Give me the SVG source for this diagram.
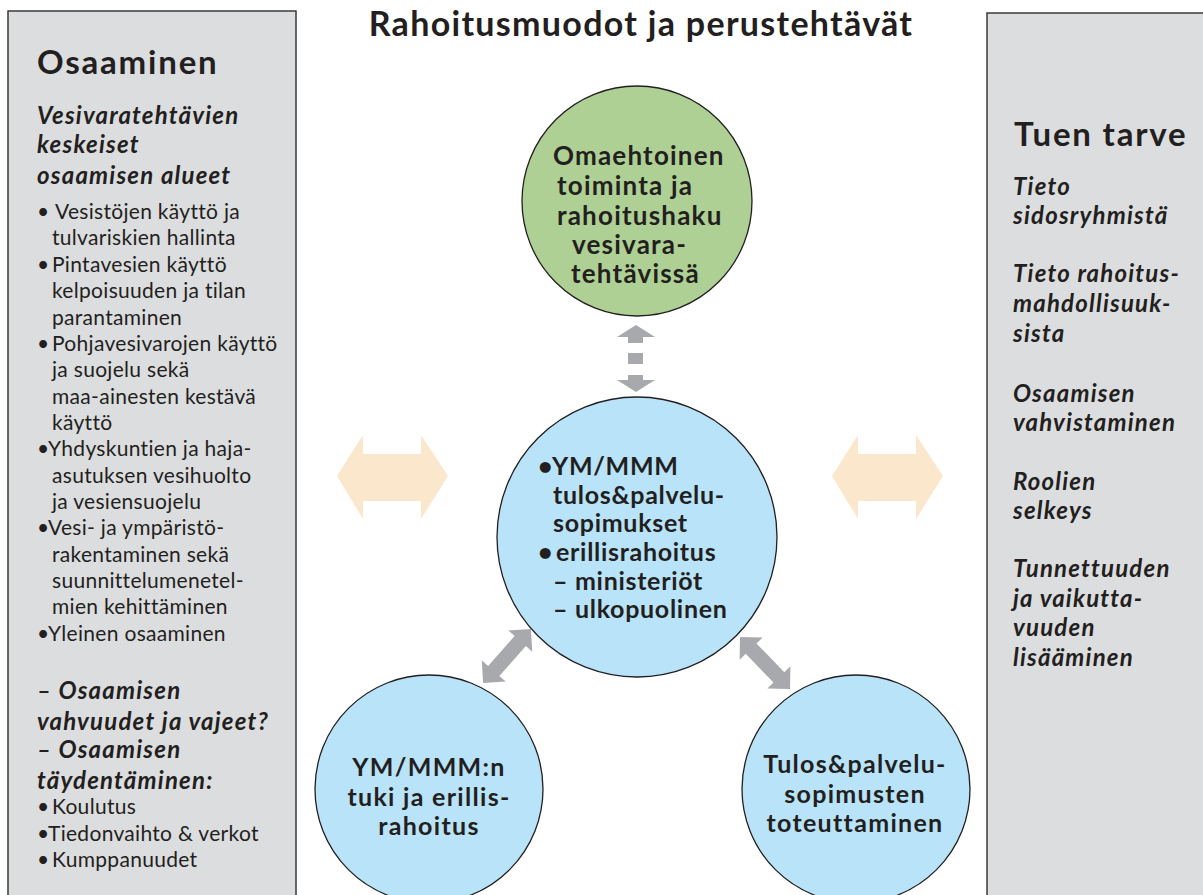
<svg xmlns="http://www.w3.org/2000/svg" width="1203" height="895" viewBox="0 0 1203 895">
<defs>
<style>
.panel{fill:#dcdddf;stroke:#3a3a3a;stroke-width:1.5}
.t{font-family:Lato,"Liberation Sans",sans-serif;fill:#231f20}
.h1{font-size:34px;font-weight:bold;letter-spacing:1.3px}
.hp{font-size:33px;font-weight:bold;letter-spacing:1.8px}
.bi{font-size:24px;font-weight:bold;font-style:italic;letter-spacing:1.2px}
.reg{font-size:21px;letter-spacing:0.3px}
.cb{font-size:25px;font-weight:bold;letter-spacing:0.7px}
.gb{font-size:26px;font-weight:bold;letter-spacing:1.2px}
.bb{font-size:25px;font-weight:bold;letter-spacing:1.3px}
.circ{stroke:#231f20;stroke-width:1.3}
.gray{fill:#a7a9ac}
.peach{fill:#fbe7cb}
</style>
</defs>
<rect width="1203" height="895" fill="#ffffff"/>
<text class="t h1" x="641" y="36" text-anchor="middle">Rahoitusmuodot ja perustehtävät</text>

<g id="panel-osaaminen">
<rect class="panel" x="8" y="11" width="288" height="895"/>
<text class="t hp" x="37" y="74">Osaaminen</text>
<text class="t bi" x="37" y="124">Vesivaratehtävien</text>
<text class="t bi" x="37" y="153">keskeiset</text>
<text class="t bi" x="37" y="184">osaamisen alueet</text>
<text class="t reg" y="219"><tspan x="37">•</tspan><tspan x="55">Vesistöjen käyttö ja</tspan></text>
<text class="t reg" x="52" y="245">tulvariskien hallinta</text>
<text class="t reg" y="272"><tspan x="37">•</tspan><tspan x="52">Pintavesien käyttö</tspan></text>
<text class="t reg" x="52" y="298">kelpoisuuden ja tilan</text>
<text class="t reg" x="52" y="325">parantaminen</text>
<text class="t reg" y="351"><tspan x="37">•</tspan><tspan x="52">Pohjavesivarojen käyttö</tspan></text>
<text class="t reg" x="52" y="377">ja suojelu sekä</text>
<text class="t reg" x="52" y="404">maa-ainesten kestävä</text>
<text class="t reg" x="52" y="430">käyttö</text>
<text class="t reg" y="456"><tspan x="37">•</tspan><tspan x="48">Yhdyskuntien ja haja-</tspan></text>
<text class="t reg" x="52" y="483">asutuksen vesihuolto</text>
<text class="t reg" x="52" y="509">ja vesiensuojelu</text>
<text class="t reg" y="535"><tspan x="37">•</tspan><tspan x="48">Vesi- ja ympäristö-</tspan></text>
<text class="t reg" x="52" y="562">rakentaminen sekä</text>
<text class="t reg" x="52" y="588">suunnittelumenetel-</text>
<text class="t reg" x="52" y="614">mien kehittäminen</text>
<text class="t reg" y="641"><tspan x="37">•</tspan><tspan x="48">Yleinen osaaminen</tspan></text>
<text class="t bi" x="37" y="699">– Osaamisen</text>
<text class="t bi" x="37" y="730">vahvuudet ja vajeet?</text>
<text class="t bi" x="37" y="758">– Osaamisen</text>
<text class="t bi" x="37" y="789">täydentäminen:</text>
<text class="t reg" y="814"><tspan x="37">•</tspan><tspan x="52">Koulutus</tspan></text>
<text class="t reg" y="841"><tspan x="37">•</tspan><tspan x="48">Tiedonvaihto &amp; verkot</tspan></text>
<text class="t reg" y="867"><tspan x="37">•</tspan><tspan x="52">Kumppanuudet</tspan></text>
</g>

<g id="panel-tuen-tarve">
<rect class="panel" x="987" y="13" width="230" height="895"/>
<text class="t hp" x="1014" y="146">Tuen tarve</text>
<text class="t bi" x="1013" y="195">Tieto</text>
<text class="t bi" x="1013" y="224">sidosryhmistä</text>
<text class="t bi" x="1013" y="282">Tieto rahoitus-</text>
<text class="t bi" x="1013" y="312">mahdollisuuk-</text>
<text class="t bi" x="1013" y="342">sista</text>
<text class="t bi" x="1013" y="402">Osaamisen</text>
<text class="t bi" x="1013" y="431">vahvistaminen</text>
<text class="t bi" x="1013" y="490">Roolien</text>
<text class="t bi" x="1013" y="519">selkeys</text>
<text class="t bi" x="1013" y="577">Tunnettuuden</text>
<text class="t bi" x="1013" y="607">ja vaikutta-</text>
<text class="t bi" x="1013" y="636">vuuden</text>
<text class="t bi" x="1013" y="666">lisääminen</text>
</g>

<g id="connectors">
<polygon class="peach" points="337,476 363,435 363,454 421,454 421,435 448,476 421,519 421,501 363,501 363,519"/>
<polygon class="peach" points="832,476 858,435 858,454 916,454 916,435 943,476 916,519 916,501 858,501 858,519"/>
<polygon class="gray" points="636,325 655,337 643,337 643,343 628,343 628,337 617,337"/>
<rect class="gray" x="628" y="353" width="15" height="11"/>
<polygon class="gray" points="628,375 643,375 643,380 655,380 636,392 617,380 628,380"/>
<polygon class="gray" transform="translate(507,656) rotate(-48.4)" points="-36,0 -20,-16 -20,-7.5 20,-7.5 20,-16 36,0 20,16 20,7.5 -20,7.5 -20,16"/>
<polygon class="gray" transform="translate(765,663) rotate(46)" points="-36,0 -20,-16 -20,-7.5 20,-7.5 20,-16 36,0 20,16 20,7.5 -20,7.5 -20,16"/>
</g>

<g id="node-omaehtoinen">
<circle class="circ" cx="637" cy="201" r="115" fill="#aed094"/>
<text class="t gb" x="553" y="165">Omaehtoinen</text>
<text class="t gb" x="557" y="195">toiminta ja</text>
<text class="t gb" x="557" y="225">rahoitushaku</text>
<text class="t gb" x="572" y="254">vesivara-</text>
<text class="t gb" x="571" y="283">tehtävissä</text>
</g>

<g id="node-rahoitus">
<circle class="circ" cx="637" cy="537" r="140" fill="#b8e3f8"/>
<text class="t cb" y="475"><tspan x="538">•</tspan><tspan x="552">YM/MMM</tspan></text>
<text class="t cb" x="553" y="504">tulos&amp;palvelu-</text>
<text class="t cb" x="553" y="532">sopimukset</text>
<text class="t cb" y="561"><tspan x="538">•</tspan><tspan x="556">erillisrahoitus</tspan></text>
<text class="t cb" x="553" y="590">– ministeriöt</text>
<text class="t cb" x="553" y="618">– ulkopuolinen</text>
</g>

<g id="node-tuki">
<circle class="circ" cx="429" cy="789" r="114" fill="#b8e3f8"/>
<text class="t bb" x="429" y="776" text-anchor="middle">YM/MMM:n</text>
<text class="t bb" x="429" y="806" text-anchor="middle">tuki ja erillis-</text>
<text class="t bb" x="429" y="835" text-anchor="middle">rahoitus</text>
</g>

<g id="node-toteuttaminen">
<circle class="circ" cx="856" cy="789" r="114" fill="#b8e3f8"/>
<text class="t bb" x="855" y="773" text-anchor="middle">Tulos&amp;palvelu-</text>
<text class="t bb" x="855" y="803" text-anchor="middle">sopimusten</text>
<text class="t bb" x="855" y="832" text-anchor="middle">toteuttaminen</text>
</g>
</svg>
